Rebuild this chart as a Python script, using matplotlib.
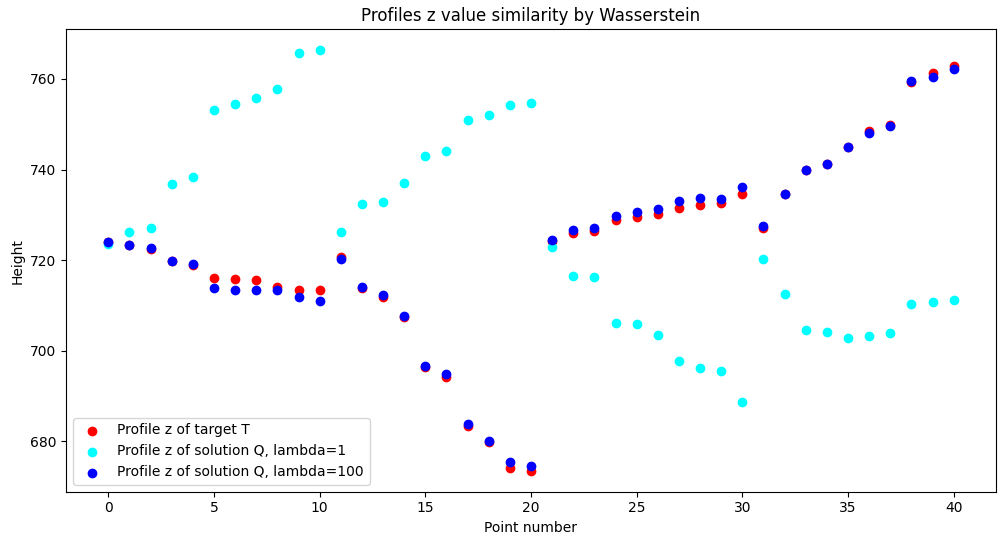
import numpy as np
import matplotlib
matplotlib.use('Agg')
import matplotlib.pyplot as plt

# point index along the profile
points = np.arange(41)

# target profile T
z_target = [724.0, 723.4, 722.5, 719.7, 719.0, 716.1, 715.9, 715.5, 714.1, 713.5,
            713.5, 720.6, 713.8, 711.9, 707.5, 696.3, 694.2, 683.4, 679.9, 674.2,
            673.5, 724.3, 726.0, 726.4, 728.9, 729.5, 730.1, 731.4, 732.2, 732.6,
            734.5, 727.2, 734.5, 739.8, 741.3, 744.9, 748.6, 749.9, 759.4, 761.3,
            762.9]

# solution Q with lambda=1
z_lambda1 = [723.5, 726.1, 727.2, 736.7, 738.3, 753.1, 754.4, 755.9, 757.7, 765.7,
             766.3, 726.1, 732.3, 732.9, 737.1, 743.1, 744.0, 750.9, 752.0, 754.2,
             754.7, 722.8, 716.6, 716.3, 706.2, 706.0, 703.5, 697.8, 696.1, 695.6,
             688.7, 720.3, 712.6, 704.6, 704.2, 702.9, 703.3, 703.8, 710.4, 710.8,
             711.3]

# solution Q with lambda=100
z_lambda100 = [724.1, 723.4, 722.7, 719.8, 719.1, 713.9, 713.5, 713.3, 713.3, 711.9,
               711.0, 720.3, 714.1, 712.4, 707.6, 696.6, 694.9, 683.8, 680.1, 675.4,
               674.5, 724.5, 726.6, 727.2, 729.7, 730.6, 731.2, 733.0, 733.7, 733.4,
               736.1, 727.5, 734.6, 739.8, 741.3, 744.9, 748.0, 749.6, 759.6, 760.4,
               762.2]

fig, ax = plt.subplots(figsize=(10.05, 5.45), dpi=100)
fig.subplots_adjust(left=0.0657, right=0.991, top=0.946, bottom=0.0978)

ax.scatter(points, z_target, color='red', label='Profile z of target T')
ax.scatter(points, z_lambda1, color='cyan', label='Profile z of solution Q, lambda=1')
ax.scatter(points, z_lambda100, color='blue', label='Profile z of solution Q, lambda=100')

ax.set_title('Profiles z value similarity by Wasserstein')
ax.set_xlabel('Point number')
ax.set_ylabel('Height')
ax.legend(loc='lower left')

fig.savefig('out.png', dpi=100)
